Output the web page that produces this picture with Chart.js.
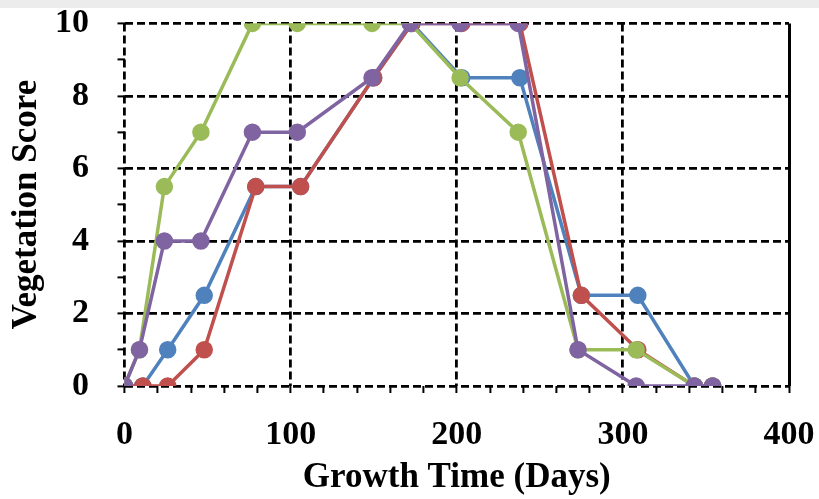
<!DOCTYPE html>
<html>
<head>
<meta charset="utf-8">
<script src="https://cdn.jsdelivr.net/npm/chart.js@4.4.0/dist/chart.umd.min.js"></script>
<style>
  html, body { margin: 0; padding: 0; background: #fff; }
  #wrap { position: absolute; left: 0; top: 0; width: 819px; height: 499px; }
  #band { position: absolute; left: 0; top: 0; width: 819px; height: 8px; background: #ececec; z-index: 2; }
</style>
</head>
<body>
<div id="wrap"><canvas id="chart"></canvas></div>
<div id="band"></div>
<script>
// sampling days (two series were plotted a couple of days apart)
const daysEarly = [0, 9, 24, 46, 77, 104, 149, 172, 202, 237, 273, 308, 343, 354];
const daysLate  = [0, 11, 26, 48, 79, 106, 150, 173, 203, 238, 275, 309, 343, 354];

const blueScores   = [0, 0, 1, 2.5, 5.5, 5.5, 8.5, 10, 8.5, 8.5, 2.5, 2.5, 0, 0];
const redScores    = [0, 0, 0, 1, 5.5, 5.5, 8.5, 10, 10, 10, 2.5, 1, 0, 0];
const greenScores  = [0, 1, 5.5, 7, 10, 10, 10, 10, 8.5, 7, 1, 1, 0, 0];
const purpleScores = [0, 1, 4, 4, 7, 7, 8.5, 10, 10, 10, 1, 0, 0, 0];

const xTicks = [0, 100, 200, 300, 400];
const yTicks = [0, 2, 4, 6, 8, 10];

const pts = (xs, ys) => xs.map((x, i) => ({ x, y: ys[i] }));

const serif = 'Liberation Serif, "Times New Roman", serif';
const tickFont = { family: serif, size: 34, weight: 'bold' };
const titleFont = { family: serif, size: 35, weight: 'bold' };

function series(label, xs, ys, color, order) {
  return {
    label, data: pts(xs, ys), order,
    borderColor: color, backgroundColor: color,
    pointBackgroundColor: color, pointBorderColor: color,
    borderWidth: 3.5, pointRadius: 7, pointHoverRadius: 7,
    tension: 0,
  };
}

new Chart(document.getElementById('chart'), {
  type: 'line',
  data: {
    datasets: [
      series('Blue', daysLate, blueScores, '#4f81bd', 4),
      series('Red', daysLate, redScores, '#c0504d', 3),
      series('Green', daysEarly, greenScores, '#9bbb59', 2),
      series('Purple', daysEarly, purpleScores, '#8064a2', 1),
    ],
  },
  options: {
    responsive: true,
    maintainAspectRatio: false,
    animation: false,
    layout: { padding: { left: 6, right: 0, top: 0, bottom: 0 } },
    plugins: { legend: { display: false }, tooltip: { enabled: false } },
    scales: {
      x: {
        type: 'linear', min: 0, max: 400,
        ticks: {
          stepSize: 20, autoSkip: false, color: '#000', font: tickFont, padding: 22, maxRotation: 0,
          callback: v => xTicks.includes(v) ? v : '',
        },
        grid: {
          color: c => (c.tick && xTicks.includes(c.tick.value)) ? '#000' : 'rgba(0,0,0,0)',
          lineWidth: c => (c.tick && c.tick.value === 400) ? 3 : 2.8,
          tickColor: '#000', tickLength: 7, tickWidth: 2, tickBorderDash: [],
        },
        border: { display: false, dash: c => (c.tick && c.tick.value === 400) ? [] : [8, 4] },
        title: { display: true, text: 'Growth Time (Days)', color: '#000', font: titleFont, padding: { top: 0, bottom: 0 } },
        // tighter box than Chart.js computes (it counts tick padding twice)
        afterFit: s => { s.height = 113; s.paddingRight = 30; },
      },
      y: {
        type: 'linear', min: 0, max: 10,
        ticks: {
          stepSize: 1, autoSkip: false, color: '#000', font: tickFont, padding: 3,
          // trailing spaces keep the labels clear of the axis without widening the top margin
          callback: v => yTicks.includes(v) ? v + '   ' : '',
        },
        grid: {
          color: c => (c.tick && yTicks.includes(c.tick.value)) ? '#000' : 'rgba(0,0,0,0)',
          lineWidth: 2.8, tickColor: '#000', tickLength: 7, tickWidth: 2, tickBorderDash: [],
        },
        border: { display: false, dash: [8, 4] },
        title: { display: true, text: 'Vegetation Score', color: '#000', font: titleFont, padding: { top: 0, bottom: 4 } },
      },
    },
  },
});
</script>
</body>
</html>
